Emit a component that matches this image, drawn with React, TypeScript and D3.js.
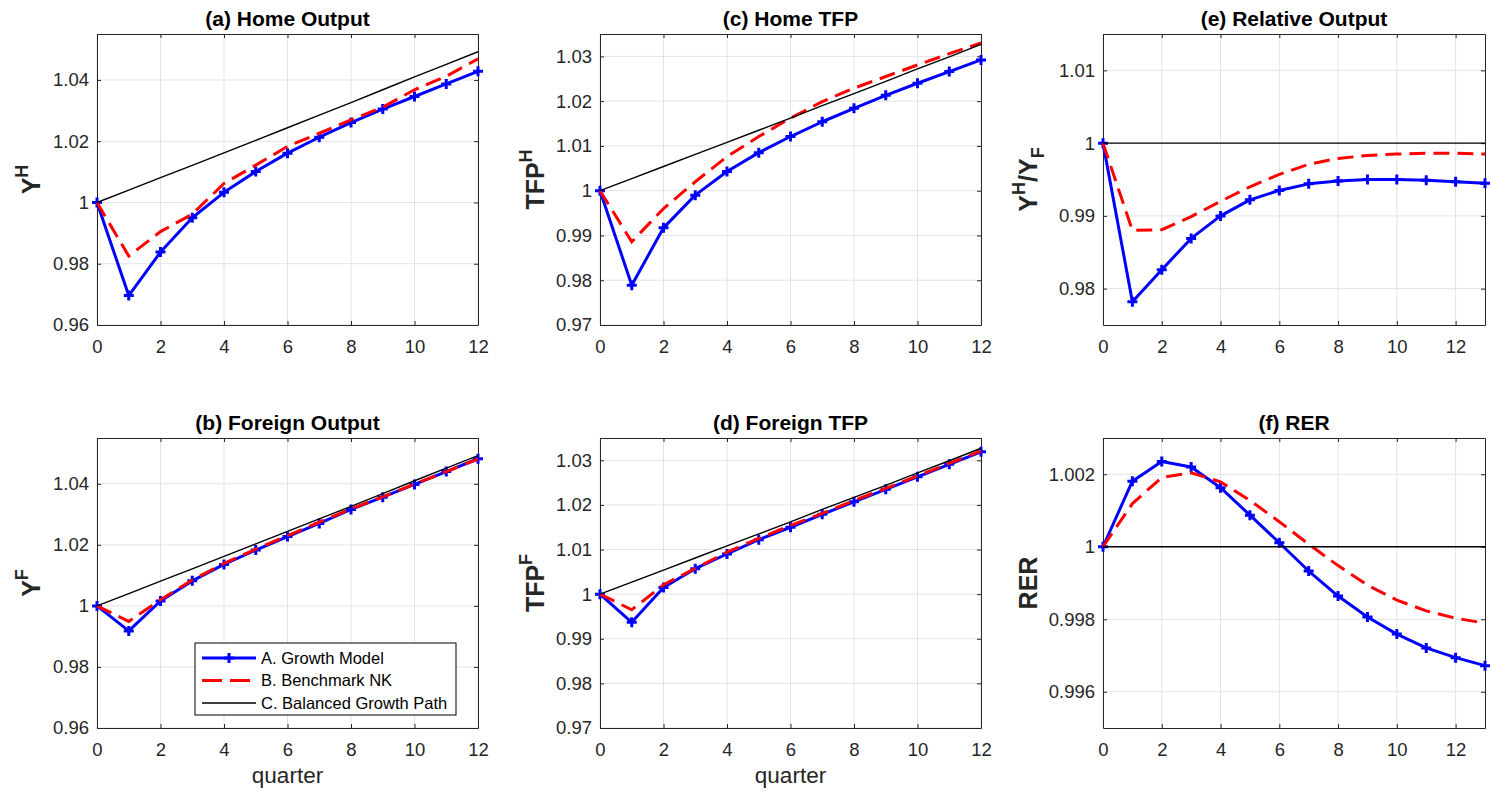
import { useEffect, useRef } from "react";
import * as d3 from "d3";

// quarters on the horizontal axis
const quarters12 = [0, 1, 2, 3, 4, 5, 6, 7, 8, 9, 10, 11, 12];
const quarters13 = [0, 1, 2, 3, 4, 5, 6, 7, 8, 9, 10, 11, 12, 13];
const xTicks = [0, 2, 4, 6, 8, 10, 12];

// (a) Home Output
const homeOutputGrowth = [1.0, 0.9696, 0.9838, 0.995, 1.0033, 1.0101, 1.0161, 1.0213, 1.0261, 1.0305, 1.0346, 1.0387, 1.0428];
const homeOutputNK = [1.0, 0.9825, 0.9905, 0.9962, 1.0062, 1.0122, 1.0183, 1.0226, 1.027, 1.0311, 1.0368, 1.0412, 1.0469];
// (b) Foreign Output
const foreignOutputGrowth = [1.0, 0.9918, 1.0016, 1.0082, 1.0136, 1.0183, 1.0227, 1.027, 1.0316, 1.0356, 1.0398, 1.044, 1.0482];
const foreignOutputNK = [1.0, 0.9949, 1.002, 1.0085, 1.0139, 1.0186, 1.023, 1.0274, 1.0318, 1.0357, 1.0399, 1.044, 1.0481];
const outputBGP = [1.0, 1.004, 1.0081, 1.0121, 1.0162, 1.0203, 1.0244, 1.0285, 1.0326, 1.0368, 1.041, 1.0451, 1.0492];

// (c) Home TFP
const homeTfpGrowth = [1.0, 0.9789, 0.9917, 0.999, 1.0043, 1.0085, 1.0121, 1.0154, 1.0184, 1.0213, 1.024, 1.0266, 1.0292];
const homeTfpNK = [1.0, 0.9886, 0.996, 1.002, 1.0076, 1.0121, 1.0162, 1.0199, 1.0229, 1.0255, 1.0281, 1.0306, 1.033];
// (d) Foreign TFP
const foreignTfpGrowth = [1.0, 0.9937, 1.0015, 1.0057, 1.009, 1.0122, 1.015, 1.0179, 1.0207, 1.0235, 1.0263, 1.0291, 1.0319];
const foreignTfpNK = [1.0, 0.9965, 1.0021, 1.0058, 1.0094, 1.0125, 1.0154, 1.0181, 1.021, 1.0237, 1.0265, 1.0293, 1.0321];
const tfpBGP = [1.0, 1.0027, 1.0054, 1.0081, 1.0108, 1.0135, 1.0162, 1.019, 1.0217, 1.0244, 1.0272, 1.0299, 1.0327];

// (e) Relative Output
const relOutputGrowth = [1.0, 0.9782, 0.9826, 0.9869, 0.99, 0.9922, 0.9935, 0.9944, 0.9948, 0.995, 0.995, 0.9949, 0.9947, 0.9945];
const relOutputNK = [1.0, 0.988, 0.9881, 0.9899, 0.992, 0.994, 0.9957, 0.9971, 0.9979, 0.9983, 0.9985, 0.9986, 0.9986, 0.9985];
// (f) RER
const rerGrowth = [1.0, 1.00181, 1.00235, 1.0022, 1.00163, 1.00087, 1.00011, 0.99933, 0.99864, 0.99806, 0.99759, 0.99721, 0.99694, 0.99672];
const rerNK = [1.0, 1.00119, 1.00191, 1.00204, 1.00179, 1.00128, 1.00069, 1.00007, 0.99948, 0.99894, 0.99853, 0.99823, 0.99803, 0.99789];
const steadyState = [1, 1, 1, 1, 1, 1, 1, 1, 1, 1, 1, 1, 1, 1];

const legendLabels = ["A. Growth Model", "B. Benchmark NK", "C. Balanced Growth Path"];

const FONT = "'Liberation Sans', Arial, Helvetica, sans-serif";
const INK = "#262626";
const BLUE = "#0000ff";
const RED = "#ff0000";

type LabelPart = { t: string; s?: "sup" | "sub" };

const panels = [
  {
    title: "(a) Home Output", ylabel: [{ t: "Y" }, { t: "H", s: "sup" }] as LabelPart[],
    left: 97, top: 34, width: 381, height: 291, labelX: 40,
    xs: quarters12, xMax: 12, yDomain: [0.96, 1.055], yTicks: [0.96, 0.98, 1, 1.02, 1.04],
    growth: homeOutputGrowth, nk: homeOutputNK, bgp: outputBGP, xlabel: false,
  },
  {
    title: "(b) Foreign Output", ylabel: [{ t: "Y" }, { t: "F", s: "sup" }] as LabelPart[],
    left: 97, top: 438, width: 381, height: 290, labelX: 40,
    xs: quarters12, xMax: 12, yDomain: [0.96, 1.055], yTicks: [0.96, 0.98, 1, 1.02, 1.04],
    growth: foreignOutputGrowth, nk: foreignOutputNK, bgp: outputBGP, xlabel: true,
  },
  {
    title: "(c) Home TFP", ylabel: [{ t: "TFP" }, { t: "H", s: "sup" }] as LabelPart[],
    left: 600, top: 34, width: 381, height: 291, labelX: 544,
    xs: quarters12, xMax: 12, yDomain: [0.97, 1.035], yTicks: [0.97, 0.98, 0.99, 1, 1.01, 1.02, 1.03],
    growth: homeTfpGrowth, nk: homeTfpNK, bgp: tfpBGP, xlabel: false,
  },
  {
    title: "(d) Foreign TFP", ylabel: [{ t: "TFP" }, { t: "F", s: "sup" }] as LabelPart[],
    left: 600, top: 438, width: 381, height: 290, labelX: 544,
    xs: quarters12, xMax: 12, yDomain: [0.97, 1.035], yTicks: [0.97, 0.98, 0.99, 1, 1.01, 1.02, 1.03],
    growth: foreignTfpGrowth, nk: foreignTfpNK, bgp: tfpBGP, xlabel: true,
  },
  {
    title: "(e) Relative Output",
    ylabel: [{ t: "Y" }, { t: "H", s: "sup" }, { t: "/Y" }, { t: "F", s: "sub" }] as LabelPart[],
    left: 1103, top: 34, width: 382, height: 291, labelX: 1037,
    xs: quarters13, xMax: 13, yDomain: [0.975, 1.015], yTicks: [0.98, 0.99, 1, 1.01],
    growth: relOutputGrowth, nk: relOutputNK, bgp: steadyState, xlabel: false,
  },
  {
    title: "(f) RER", ylabel: [{ t: "RER" }] as LabelPart[],
    left: 1103, top: 438, width: 382, height: 290, labelX: 1037,
    xs: quarters13, xMax: 13, yDomain: [0.995, 1.003], yTicks: [0.996, 0.998, 1, 1.002],
    growth: rerGrowth, nk: rerNK, bgp: steadyState, xlabel: false,
  },
];

const plusPath = "M-5,0H5M0,-5V5";

export default function App() {
  const svgRef = useRef<SVGSVGElement | null>(null);

  useEffect(() => {
    if (!svgRef.current) return;
    const svg = d3.select(svgRef.current);
    svg.selectAll("*").remove();

    panels.forEach((p) => {
      const x = d3.scaleLinear().domain([0, p.xMax]).range([p.left, p.left + p.width]);
      const y = d3.scaleLinear().domain(p.yDomain).range([p.top + p.height, p.top]);
      const g = svg.append("g");
      const bottom = p.top + p.height;
      const right = p.left + p.width;

      // grid
      g.selectAll("line.gx")
        .data(xTicks)
        .join("line")
        .attr("x1", (d) => x(d)).attr("x2", (d) => x(d))
        .attr("y1", p.top).attr("y2", bottom)
        .attr("stroke", "#e3e3e3").attr("stroke-width", 1);
      g.selectAll("line.gy")
        .data(p.yTicks)
        .join("line")
        .attr("x1", p.left).attr("x2", right)
        .attr("y1", (d) => y(d)).attr("y2", (d) => y(d))
        .attr("stroke", "#e3e3e3").attr("stroke-width", 1);

      const fmt = (d: d3.NumberValue) => String(+(+d).toFixed(3));

      // axes, ticks pointing inward (box on)
      const ax = (sel: any) => {
        sel.selectAll("text").style("font-family", FONT).style("font-size", "18.5px").attr("fill", INK);
        sel.selectAll("line").attr("stroke", INK);
        sel.select(".domain").attr("stroke", INK);
      };
      g.append("g").attr("transform", `translate(0,${bottom})`)
        .call(d3.axisBottom(x).tickValues(xTicks).tickSize(-4).tickSizeOuter(0).tickPadding(15).tickFormat(fmt))
        .call(ax);
      g.append("g").attr("transform", `translate(0,${p.top})`)
        .call(d3.axisTop(x).tickValues(xTicks).tickSize(-4).tickSizeOuter(0).tickFormat(() => ""))
        .call(ax);
      g.append("g").attr("transform", `translate(${p.left},0)`)
        .call(d3.axisLeft(y).tickValues(p.yTicks).tickSize(-4).tickSizeOuter(0).tickPadding(8).tickFormat(fmt))
        .call(ax);
      g.append("g").attr("transform", `translate(${right},0)`)
        .call(d3.axisRight(y).tickValues(p.yTicks).tickSize(-4).tickSizeOuter(0).tickFormat(() => ""))
        .call(ax);

      const line = d3.line<number>().x((_, i) => x(p.xs[i])).y((d) => y(d));

      // A. growth model
      g.append("path").datum(p.growth).attr("d", line)
        .attr("fill", "none").attr("stroke", BLUE).attr("stroke-width", 3).attr("stroke-linejoin", "round");
      g.selectAll("path.mk")
        .data(p.growth)
        .join("path")
        .attr("class", "mk")
        .attr("d", plusPath)
        .attr("transform", (d, i) => `translate(${x(p.xs[i])},${y(d)})`)
        .attr("stroke", BLUE).attr("stroke-width", 3).attr("fill", "none");

      // B. benchmark NK
      g.append("path").datum(p.nk).attr("d", line)
        .attr("fill", "none").attr("stroke", RED).attr("stroke-width", 3).attr("stroke-dasharray", "16,8");

      // C. balanced growth path
      g.append("path").datum(p.bgp).attr("d", line)
        .attr("fill", "none").attr("stroke", "#000").attr("stroke-width", 1.4);

      // title
      g.append("text")
        .attr("x", (p.left + right) / 2).attr("y", p.top - 8)
        .attr("text-anchor", "middle")
        .style("font-family", FONT).style("font-size", "21px").style("font-weight", "bold")
        .attr("fill", "#000")
        .text(p.title);

      // y label
      const yl = g.append("text")
        .attr("transform", `translate(${p.labelX},${(p.top + bottom) / 2}) rotate(-90)`)
        .attr("text-anchor", "middle")
        .style("font-family", FONT).style("font-size", "25px").style("font-weight", "bold")
        .attr("fill", INK);
      let shift = 0;
      p.ylabel.forEach((part) => {
        const target = part.s === "sup" ? -12 : part.s === "sub" ? 7 : 0;
        yl.append("tspan")
          .attr("dy", target - shift)
          .style("font-size", part.s ? "18px" : "25px")
          .text(part.t);
        shift = target;
      });

      if (p.xlabel) {
        g.append("text")
          .attr("x", (p.left + right) / 2).attr("y", bottom + 55)
          .attr("text-anchor", "middle")
          .style("font-family", FONT).style("font-size", "22.5px")
          .attr("fill", INK)
          .text("quarter");
      }
    });

    // legend in panel (b)
    const lg = svg.append("g").attr("transform", "translate(195,643)");
    lg.append("rect").attr("width", 261).attr("height", 72)
      .attr("fill", "#fff").attr("stroke", "#000").attr("stroke-width", 1);
    const rows = [15, 37.5, 60];
    const styles = [
      { stroke: BLUE, w: 3, dash: null, marker: true },
      { stroke: RED, w: 3, dash: "20,8", marker: false },
      { stroke: "#000", w: 1.4, dash: null, marker: false },
    ];
    legendLabels.forEach((label, i) => {
      const st = styles[i];
      lg.append("line").attr("x1", 7).attr("x2", 61).attr("y1", rows[i]).attr("y2", rows[i])
        .attr("stroke", st.stroke).attr("stroke-width", st.w)
        .attr("stroke-dasharray", st.dash);
      if (st.marker) {
        lg.append("path").attr("d", plusPath).attr("transform", `translate(34,${rows[i]})`)
          .attr("stroke", BLUE).attr("stroke-width", 3);
      }
      lg.append("text").attr("x", 66).attr("y", rows[i]).attr("dy", "0.35em")
        .style("font-family", FONT).style("font-size", "16.5px")
        .attr("fill", "#000")
        .text(label);
    });
  }, []);

  return (
    <svg
      ref={svgRef}
      width={1490}
      height={795}
      style={{ position: "absolute", left: 0, top: 0, background: "#fff" }}
    />
  );
}
